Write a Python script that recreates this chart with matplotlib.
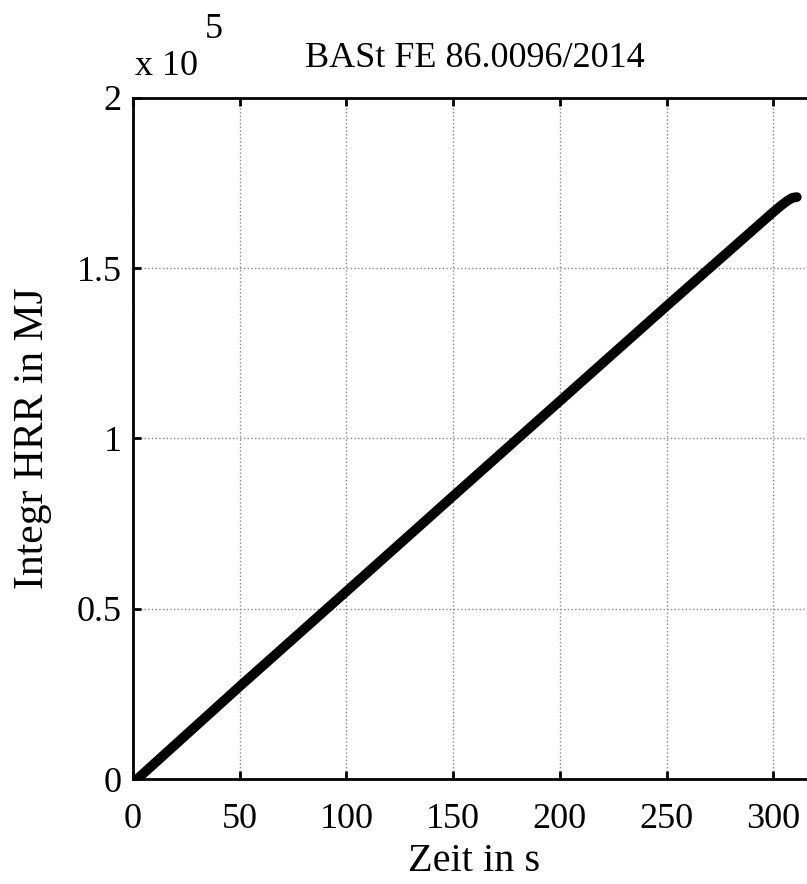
import matplotlib
matplotlib.use("Agg")
import matplotlib.pyplot as plt
from matplotlib.ticker import FuncFormatter

# Data (time in s, integrated HRR in MJ)
zeit = [2, 50, 100, 150, 200, 250, 300, 304, 307, 309, 311]
integr_hrr = [0, 0.272e5, 0.551e5, 0.831e5, 1.110e5, 1.389e5, 1.665e5, 1.686e5, 1.700e5, 1.707e5, 1.709e5]

xticks = [0, 50, 100, 150, 200, 250, 300]
yticks = [0, 0.5e5, 1.0e5, 1.5e5, 2.0e5]

title = "BASt FE 86.0096/2014"
xlabel = "Zeit in s"
ylabel = "Integr HRR in MJ"

plt.rcParams['font.family'] = ['Liberation Serif', 'DejaVu Serif']

fig = plt.figure(figsize=(8.07, 8.84), dpi=100)
ax = fig.add_axes([133/807, 1-779/884, (816-133)/807, (779-98)/884])

ax.plot(zeit, integr_hrr, color='black', linewidth=7, solid_capstyle='round')
ax.set_xlim(0, 320)
ax.set_ylim(0, 2e5)
ax.set_xticks(xticks)
ax.set_yticks(yticks)
ax.yaxis.set_major_formatter(FuncFormatter(lambda v, p: "%g" % (v/1e5)))
ax.tick_params(direction='in', top=True, right=True, length=6, width=2, labelsize=26)
ax.tick_params(axis='x', pad=17)
ax.tick_params(axis='y', pad=8)
ax.grid(True, linestyle=':', color='#888888', linewidth=1)
for s in ax.spines.values():
    s.set_linewidth(2)

ax.set_title(title, fontsize=26, pad=22)
ax.set_xlabel(xlabel, fontsize=29, labelpad=5)
ax.set_ylabel(ylabel, fontsize=30, labelpad=18)
fig.text(135/807, 1-75/884, r"x 10", fontsize=26, ha='left', va='baseline')
fig.text(205/807, 1-38/884, "5", fontsize=26, ha='left', va='baseline')

fig.savefig("out.png", dpi=100)
